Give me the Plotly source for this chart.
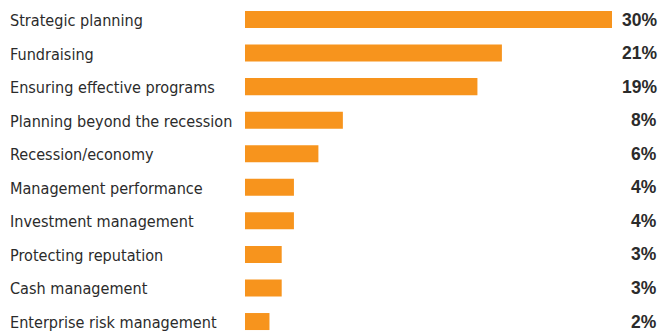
import plotly.graph_objects as go

categories = [
    "Strategic planning",
    "Fundraising",
    "Ensuring effective programs",
    "Planning beyond the recession",
    "Recession/economy",
    "Management performance",
    "Investment management",
    "Protecting reputation",
    "Cash management",
    "Enterprise risk management",
]
values = [30, 21, 19, 8, 6, 4, 4, 3, 3, 2]
value_labels = [f"{v}%" for v in values]

BAR_COLOR = "#F7941D"
TEXT_COLOR = "#2b2b2b"
LABEL_FONT = "'DejaVu Sans Condensed', 'Liberation Sans Narrow', sans-serif"
VALUE_FONT = "'Liberation Sans', Arial, sans-serif"

W, H = 659, 331
L, R = 245, 47
PW = W - L - R

fig = go.Figure(
    go.Bar(
        x=values,
        y=categories,
        orientation="h",
        marker=dict(color=BAR_COLOR, line=dict(width=0)),
        width=0.507,
        hoverinfo="skip",
    )
)

annotations = []
for cat, lab in zip(categories, value_labels):
    annotations.append(dict(
        x=(8 - L) / PW, xref="paper", y=cat, yref="y",
        text=cat, showarrow=False, xanchor="left", yanchor="middle",
        yshift=-1,
        font=dict(family=LABEL_FONT, size=16.1, color=TEXT_COLOR),
    ))
    annotations.append(dict(
        x=(659 - L) / PW, xref="paper", y=cat, yref="y",
        text=f"<b>{lab}</b>", showarrow=False, xanchor="right", yanchor="middle",
        font=dict(family=VALUE_FONT, size=17.5, color=TEXT_COLOR),
    ))

fig.update_layout(
    width=W, height=H,
    margin=dict(l=L, r=R, t=0, b=0),
    paper_bgcolor="white", plot_bgcolor="white",
    showlegend=False,
    annotations=annotations,
    xaxis=dict(range=[0, 30], visible=False, fixedrange=True),
    yaxis=dict(type="category", categoryorder="array", categoryarray=categories,
               range=[9.282, -0.581], visible=False, fixedrange=True),
)

fig.write_html("out.html", config={"displayModeBar": False})
